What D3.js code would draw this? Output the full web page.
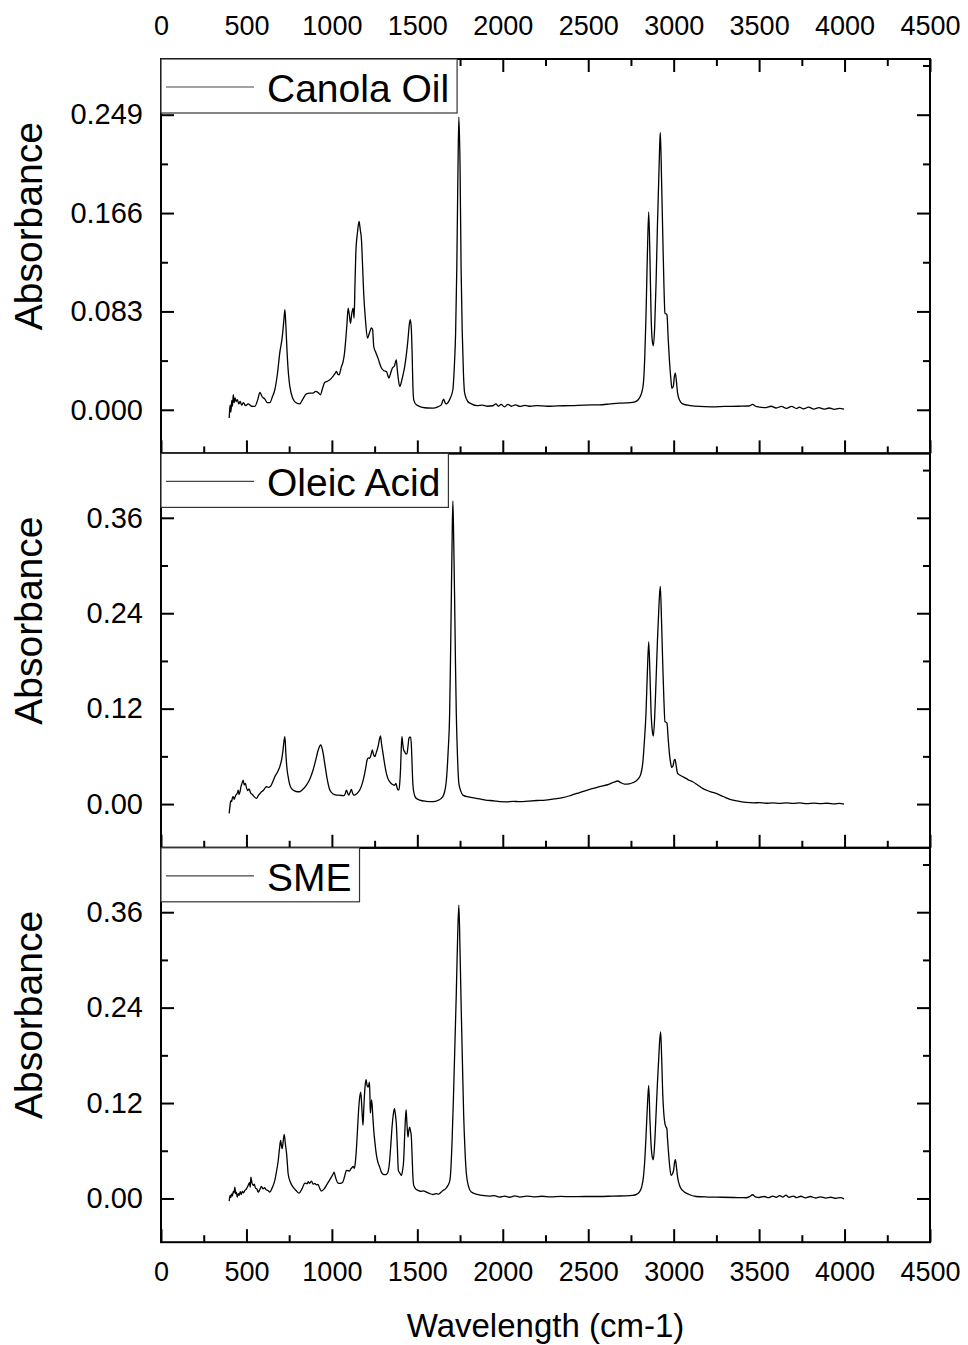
<!DOCTYPE html>
<html>
<head>
<meta charset="utf-8">
<script src="https://cdn.jsdelivr.net/npm/d3@7"></script>
<style>
  body { margin: 0; background: #fff; }
  svg text { font-family: "Liberation Sans", Arial, sans-serif; fill: #000; }
</style>
</head>
<body>
<svg id="chart" width="968" height="1345"></svg>
<script>
/* Spectra: [wavenumber, absorbance] */
var seriesNames = ["Canola Oil", "Oleic Acid", "SME"];

var canolaData = [
  [399,-0.007],[404,0.004],[409,-0.002],[414,0.008],[418,0.003],[423,0.0127],[428,0.006],[433,0.010],[440,0.007],[447,0.0085],
  [455,0.005],[463,0.007],[472,0.004],[482,0.006],[495,0.0035],[510,0.005],[530,0.003],[549,0.0028],[565,0.008],[579,0.0146],
  [592,0.011],[608,0.009],[622,0.006],[637,0.006],[652,0.011],[666,0.0169],[681,0.030],[695,0.048],[710,0.062],[718,0.074],
  [725,0.0844],[731,0.070],[738,0.048],[746,0.030],[754,0.0197],[770,0.010],[793,0.0057],[812,0.005],[830,0.009],[851,0.0135],
  [870,0.014],[890,0.014],[905,0.0155],[920,0.0145],[933,0.0127],[945,0.018],[958,0.023],[972,0.024],[988,0.0253],[1005,0.028],
  [1020,0.031],[1027,0.0323],[1035,0.030],[1042,0.0295],[1055,0.036],[1066,0.0408],[1074,0.048],[1081,0.059],[1088,0.072],[1095,0.0858],
  [1102,0.080],[1109,0.073],[1116,0.081],[1124,0.0858],[1130,0.0774],[1135,0.105],[1140,0.132],[1150,0.150],[1159,0.159],[1166,0.152],
  [1173,0.1435],[1180,0.120],[1186,0.0985],[1197,0.075],[1208,0.0605],[1220,0.065],[1231,0.069],[1238,0.068],[1245,0.0534],[1258,0.048],
  [1270,0.0436],[1280,0.039],[1290,0.0352],[1305,0.033],[1319,0.0323],[1334,0.0268],[1344,0.031],[1354,0.0352],[1366,0.037],[1377,0.0422],
  [1382,0.035],[1387,0.0281],[1397,0.0197],[1404,0.022],[1412,0.0268],[1426,0.0365],[1437,0.048],[1445,0.059],[1453,0.072],[1459,0.076],
  [1465,0.068],[1470,0.045],[1474,0.020],[1479,0.0084],[1494,0.0042],[1530,0.002],[1560,0.0015],[1592,0.0014],[1620,0.0025],[1640,0.0042],
  [1654,0.009],[1662,0.006],[1670,0.005],[1690,0.009],[1708,0.0169],[1716,0.035],[1724,0.0647],[1731,0.12],[1738,0.205],[1743,0.247],
  [1750,0.205],[1756,0.12],[1763,0.0647],[1770,0.03],[1777,0.014],[1795,0.007],[1816,0.005],[1850,0.0035],[1880,0.004],[1910,0.003],
  [1942,0.0034],[1960,0.005],[1975,0.003],[1990,0.0045],[2010,0.0025],[2030,0.0045],[2050,0.003],[2075,0.0042],[2100,0.0028],[2130,0.0038],
  [2160,0.003],[2200,0.0035],[2260,0.003],[2320,0.0033],[2400,0.0035],[2480,0.004],[2566,0.0042],[2630,0.005],[2682,0.0056],[2720,0.0058],
  [2760,0.0062],[2785,0.0075],[2799,0.0099],[2812,0.014],[2823,0.0225],[2831,0.045],[2838,0.0788],[2846,0.13],[2854,0.167],[2861,0.13],
  [2868,0.0788],[2875,0.058],[2881,0.054],[2889,0.07],[2897,0.107],[2905,0.155],[2912,0.191],[2918,0.222],[2922,0.234],[2929,0.195],
  [2936,0.149],[2943,0.105],[2949,0.0816],[2955,0.081],[2961,0.080],[2968,0.060],[2975,0.042],[2983,0.027],[2990,0.018],[2998,0.020],
  [3005,0.029],[3010,0.031],[3016,0.024],[3023,0.014],[3035,0.008],[3052,0.005],[3100,0.0035],[3150,0.0028],[3220,0.0025],[3300,0.0028],
  [3380,0.003],[3440,0.0032],[3462,0.0045],[3480,0.003],[3501,0.0023],[3540,0.0018],[3570,0.003],[3600,0.0015],[3630,0.0028],[3660,0.0012],
  [3690,0.0028],[3720,0.001],[3735,0.0023],[3760,0.0008],[3790,0.0022],[3820,0.0006],[3850,0.0018],[3880,0.0005],[3910,0.0015],[3940,0.0004],
  [3970,0.0012],[3997,0.0006]
];

var oleicData = [
  [399,-0.0117],[404,-0.002],[408,0.004],[413,0.003],[418,0.008],[423,0.0092],[428,0.006],[433,0.0085],[440,0.012],[447,0.014],
  [452,0.0176],[457,0.012],[463,0.016],[468,0.022],[474,0.026],[481,0.0302],[487,0.024],[494,0.026],[501,0.0198],[508,0.017],
  [516,0.019],[524,0.014],[535,0.012],[546,0.009],[559,0.0072],[570,0.011],[578,0.013],[588,0.0155],[598,0.017],[608,0.02],
  [618,0.0218],[628,0.021],[640,0.022],[652,0.027],[666,0.0344],[681,0.040],[695,0.047],[705,0.055],[713,0.066],[719,0.078],
  [725,0.0847],[731,0.062],[737,0.045],[744,0.0344],[757,0.022],[773,0.0176],[790,0.0158],[812,0.0155],[832,0.019],[851,0.0239],
  [870,0.031],[890,0.0428],[905,0.055],[920,0.068],[929,0.073],[935,0.0743],[945,0.068],[958,0.0512],[972,0.032],[988,0.0176],
  [1005,0.013],[1027,0.0113],[1050,0.011],[1070,0.0105],[1078,0.013],[1085,0.0176],[1092,0.014],[1099,0.0113],[1107,0.015],[1114,0.0185],
  [1121,0.014],[1128,0.0113],[1145,0.013],[1163,0.0176],[1178,0.026],[1192,0.0386],[1200,0.048],[1206,0.0554],[1213,0.058],[1221,0.0575],
  [1229,0.062],[1237,0.068],[1244,0.062],[1251,0.0596],[1260,0.065],[1270,0.0722],[1277,0.080],[1284,0.0856],[1291,0.075],[1299,0.0638],
  [1309,0.050],[1319,0.0386],[1328,0.032],[1338,0.0281],[1352,0.025],[1360,0.024],[1368,0.0239],[1375,0.026],[1381,0.021],[1387,0.0176],
  [1392,0.018],[1397,0.0261],[1402,0.045],[1406,0.070],[1410,0.0847],[1415,0.075],[1420,0.068],[1426,0.0658],[1433,0.063],[1439,0.063],
  [1445,0.072],[1451,0.0827],[1456,0.084],[1461,0.084],[1466,0.070],[1470,0.045],[1474,0.025],[1479,0.0155],[1490,0.008],[1514,0.005],
  [1550,0.0035],[1591,0.003],[1620,0.0045],[1640,0.0072],[1655,0.012],[1664,0.020],[1670,0.0302],[1680,0.065],[1689,0.114],[1694,0.18],
  [1699,0.261],[1704,0.34],[1708,0.381],[1713,0.33],[1718,0.261],[1723,0.18],[1728,0.114],[1735,0.06],[1743,0.026],[1755,0.016],
  [1767,0.0113],[1800,0.009],[1845,0.0072],[1900,0.005],[1950,0.004],[1981,0.003],[2020,0.0028],[2060,0.0035],[2100,0.003],[2150,0.0038],
  [2200,0.0045],[2250,0.005],[2300,0.0065],[2350,0.008],[2400,0.011],[2450,0.0145],[2500,0.018],[2566,0.0218],[2624,0.0252],[2650,0.0275],
  [2673,0.029],[2690,0.027],[2712,0.0252],[2740,0.0255],[2760,0.0268],[2780,0.029],[2795,0.0323],[2808,0.038],[2819,0.0512],[2829,0.08],
  [2838,0.114],[2846,0.165],[2854,0.204],[2861,0.165],[2868,0.114],[2875,0.092],[2881,0.0856],[2889,0.11],[2897,0.156],[2905,0.205],
  [2912,0.240],[2917,0.262],[2922,0.2736],[2929,0.23],[2936,0.177],[2943,0.13],[2949,0.1036],[2955,0.103],[2961,0.1016],[2968,0.082],
  [2975,0.0638],[2982,0.052],[2988,0.0462],[2996,0.048],[3003,0.055],[3008,0.0563],[3015,0.048],[3023,0.0386],[3040,0.036],[3072,0.0323],
  [3090,0.030],[3111,0.0281],[3140,0.024],[3169,0.0197],[3210,0.016],[3248,0.0135],[3290,0.0095],[3325,0.0063],[3370,0.004],[3423,0.0021],
  [3470,0.0015],[3500,0.0018],[3540,0.001],[3580,0.0016],[3620,0.0009],[3660,0.0015],[3700,0.0008],[3740,0.0014],[3780,0.0006],[3820,0.0012],
  [3860,0.0005],[3900,0.001],[3940,0.0003],[3970,0.0008],[3997,0.0]
];

var smeData = [
  [399,-0.0034],[404,0.004],[408,0.001],[413,0.0059],[418,0.003],[423,0.009],[427,0.007],[432,0.0143],[437,0.006],[441,0.008],
  [446,0.0017],[452,0.006],[458,0.004],[464,0.0085],[470,0.005],[476,0.009],[483,0.007],[491,0.0101],[500,0.012],[510,0.0164],
  [518,0.02],[522,0.014],[526,0.0268],[532,0.02],[539,0.0164],[546,0.018],[553,0.013],[561,0.012],[569,0.008],[578,0.011],
  [588,0.0151],[597,0.012],[606,0.0135],[615,0.011],[626,0.010],[637,0.008],[650,0.013],[666,0.0227],[676,0.034],[686,0.0478],
  [693,0.062],[700,0.073],[705,0.066],[709,0.0626],[715,0.072],[721,0.0806],[728,0.068],[735,0.0563],[740,0.042],[744,0.0311],
  [758,0.020],[773,0.0143],[790,0.010],[808,0.0067],[825,0.012],[842,0.0193],[855,0.0185],[862,0.021],[870,0.019],[881,0.0218],
  [890,0.018],[900,0.019],[910,0.017],[919,0.0176],[930,0.012],[939,0.0092],[955,0.012],[972,0.018],[988,0.0235],[1000,0.028],
  [1008,0.031],[1013,0.0331],[1022,0.026],[1036,0.0193],[1050,0.019],[1062,0.020],[1075,0.028],[1085,0.0353],[1095,0.035],[1103,0.0345],
  [1110,0.037],[1118,0.039],[1124,0.0403],[1132,0.038],[1137,0.045],[1143,0.0604],[1149,0.083],[1155,0.1066],[1162,0.126],[1169,0.1338],
  [1175,0.115],[1182,0.0919],[1187,0.115],[1193,0.138],[1200,0.1494],[1206,0.142],[1212,0.140],[1216,0.143],[1220,0.1464],[1223,0.125],
  [1225,0.1074],[1229,0.118],[1233,0.124],[1239,0.105],[1245,0.0856],[1253,0.068],[1261,0.0541],[1270,0.045],[1280,0.0394],[1288,0.034],
  [1296,0.031],[1305,0.030],[1315,0.030],[1322,0.031],[1328,0.0331],[1333,0.038],[1338,0.0478],[1345,0.068],[1352,0.0898],[1359,0.105],
  [1366,0.113],[1372,0.105],[1377,0.094],[1383,0.065],[1389,0.0353],[1397,0.032],[1407,0.029],[1414,0.036],[1420,0.0478],[1427,0.085],
  [1434,0.1117],[1439,0.095],[1445,0.0772],[1450,0.085],[1455,0.0898],[1460,0.085],[1465,0.0772],[1470,0.050],[1474,0.028],[1479,0.0164],
  [1490,0.012],[1504,0.0101],[1520,0.009],[1535,0.0095],[1553,0.008],[1570,0.0065],[1591,0.005],[1610,0.006],[1625,0.0055],[1640,0.008],
  [1650,0.0101],[1665,0.012],[1679,0.0164],[1687,0.020],[1693,0.0268],[1703,0.07],[1712,0.1318],[1720,0.195],[1728,0.2577],[1736,0.33],
  [1743,0.369],[1750,0.31],[1757,0.2367],[1764,0.17],[1771,0.1066],[1779,0.06],[1787,0.031],[1800,0.015],[1816,0.008],[1850,0.005],
  [1884,0.0038],[1920,0.003],[1950,0.0035],[1981,0.0017],[2010,0.003],[2040,0.0015],[2070,0.0032],[2100,0.0018],[2140,0.003],[2180,0.002],
  [2230,0.0028],[2280,0.002],[2340,0.0026],[2400,0.0022],[2480,0.0025],[2566,0.0025],[2650,0.003],[2720,0.0032],[2760,0.0038],[2785,0.0055],
  [2799,0.008],[2812,0.014],[2823,0.0268],[2831,0.048],[2838,0.0772],[2846,0.115],[2854,0.1423],[2861,0.10],[2868,0.0667],[2875,0.052],
  [2881,0.0487],[2889,0.07],[2897,0.1066],[2905,0.145],[2912,0.1737],[2918,0.198],[2924,0.2094],[2930,0.175],[2936,0.1318],[2943,0.105],
  [2949,0.094],[2955,0.090],[2960,0.088],[2964,0.075],[2969,0.0604],[2977,0.040],[2985,0.029],[2993,0.031],[3000,0.036],[3005,0.045],
  [3010,0.0487],[3016,0.040],[3023,0.0268],[3035,0.016],[3052,0.0101],[3090,0.005],[3131,0.0025],[3200,0.0018],[3280,0.0015],[3350,0.0012],
  [3400,0.001],[3423,0.0009],[3445,0.0025],[3462,0.0047],[3478,0.002],[3500,0.0012],[3530,0.0025],[3555,0.001],[3580,0.003],[3600,0.0015],
  [3620,0.0035],[3640,0.0018],[3657,0.0042],[3675,0.0015],[3700,0.003],[3720,0.001],[3745,0.0028],[3770,0.0008],[3800,0.0025],[3830,0.0006],
  [3860,0.002],[3890,0.0005],[3920,0.0015],[3950,0.0002],[3975,0.001],[3997,-0.0004]
];

/* Axis ticks */
var xMajorTicks = [0, 500, 1000, 1500, 2000, 2500, 3000, 3500, 4000, 4500];
var xMinorTicks = [250, 750, 1250, 1750, 2250, 2750, 3250, 3750, 4250];
var canolaTicks = [0, 0.083, 0.166, 0.249];
var canolaMinor = [0.0415, 0.1245, 0.2075, 0.2905];
var acidTicks = [0, 0.12, 0.24, 0.36];
var acidMinor = [0.06, 0.18, 0.30, 0.42];

var xTitle = "Wavelength (cm-1)";
var yTitle = "Absorbance";

/* layout */
var left = 161, right = 930;
var panelTop = 59, panelH = 394.4;
var majorLen = 13, minorLen = 7;

var panels = [
  { name: seriesNames[0], data: canolaData, domain: [-0.0368, 0.296], ticks: canolaTicks, minor: canolaMinor, fmt: d3.format(".3f") },
  { name: seriesNames[1], data: oleicData, domain: [-0.055, 0.441], ticks: acidTicks, minor: acidMinor, fmt: d3.format(".2f") },
  { name: seriesNames[2], data: smeData, domain: [-0.055, 0.441], ticks: acidTicks, minor: acidMinor, fmt: d3.format(".2f") }
];

var svg = d3.select("#chart");
var x = d3.scaleLinear().domain([0, 4500]).range([left, right]);

function styleAxis(g, size) {
  g.select(".domain").remove();
  g.selectAll("line").attr("stroke", "#000").attr("stroke-width", 2);
  g.selectAll("text").attr("font-family", null).attr("font-size", size).style("fill", "#000");
}

panels.forEach(function(p, i) {
  var top = panelTop + i * panelH;
  var bottom = top + panelH;
  var y = d3.scaleLinear().domain(p.domain).range([bottom, top]);

  // spectrum
  var line = d3.line()
    .x(function(d) { return x(d[0]); })
    .y(function(d) { return y(d[1]); })
    .curve(d3.curveMonotoneX);

  svg.append("path")
    .datum(p.data)
    .attr("d", line)
    .attr("fill", "none")
    .attr("stroke", "#000")
    .attr("stroke-width", 1.3);

  // left axis, ticks pointing in
  svg.append("g").attr("transform", "translate(" + left + ",0)")
    .call(d3.axisLeft(y).tickValues(p.ticks).tickFormat(p.fmt).tickSize(-majorLen).tickPadding(18))
    .call(styleAxis, 29);
  svg.append("g").attr("transform", "translate(" + left + ",0)")
    .call(d3.axisLeft(y).tickValues(p.minor).tickFormat("").tickSize(-minorLen))
    .call(styleAxis, 29);

  // right axis, no labels
  svg.append("g").attr("transform", "translate(" + right + ",0)")
    .call(d3.axisRight(y).tickValues(p.ticks).tickFormat("").tickSize(-majorLen))
    .call(styleAxis, 27);
  svg.append("g").attr("transform", "translate(" + right + ",0)")
    .call(d3.axisRight(y).tickValues(p.minor).tickFormat("").tickSize(-minorLen))
    .call(styleAxis, 27);

  // bottom ticks on every panel, labels only on the last one
  var last = (i == panels.length - 1);
  svg.append("g").attr("transform", "translate(0," + bottom + ")")
    .call(d3.axisBottom(x).tickValues(xMajorTicks).tickFormat(last ? d3.format("d") : "").tickSize(-majorLen).tickPadding(20))
    .call(styleAxis, 27);
  svg.append("g").attr("transform", "translate(0," + bottom + ")")
    .call(d3.axisBottom(x).tickValues(xMinorTicks).tickFormat("").tickSize(-minorLen))
    .call(styleAxis, 27);

  // top axis with labels on the first panel
  if (i == 0) {
    svg.append("g").attr("transform", "translate(0," + top + ")")
      .call(d3.axisTop(x).tickValues(xMajorTicks).tickFormat(d3.format("d")).tickSize(-majorLen).tickPadding(24))
      .call(styleAxis, 27);
    svg.append("g").attr("transform", "translate(0," + top + ")")
      .call(d3.axisTop(x).tickValues(xMinorTicks).tickFormat("").tickSize(-minorLen))
      .call(styleAxis, 27);
  }

  // frame
  svg.append("rect")
    .attr("x", left).attr("y", top)
    .attr("width", right - left).attr("height", panelH)
    .attr("fill", "none").attr("stroke", "#000").attr("stroke-width", 2);

  // legend box
  var lg = svg.append("g").attr("transform", "translate(" + left + "," + top + ")");
  var box = lg.append("rect").attr("x", 0).attr("y", 0).attr("height", 54)
    .attr("fill", "#fff").attr("stroke", "#333").attr("stroke-width", 1.2);
  lg.append("line").attr("x1", 5).attr("x2", 93).attr("y1", 28).attr("y2", 28)
    .attr("stroke", "#444").attr("stroke-width", 1.2);
  var t = lg.append("text").attr("x", 106).attr("y", 43).attr("font-size", 39).text(p.name);
  box.attr("width", 106 + t.node().getComputedTextLength() + 8);

  // y title
  svg.append("text")
    .attr("transform", "translate(42," + (top + panelH / 2 - 30) + ") rotate(-90)")
    .attr("text-anchor", "middle")
    .attr("font-size", 39)
    .text(yTitle);
});

// x title
svg.append("text")
  .attr("x", (left + right) / 2)
  .attr("y", 1337)
  .attr("text-anchor", "middle")
  .attr("font-size", 33)
  .text(xTitle);
</script>
</body>
</html>
